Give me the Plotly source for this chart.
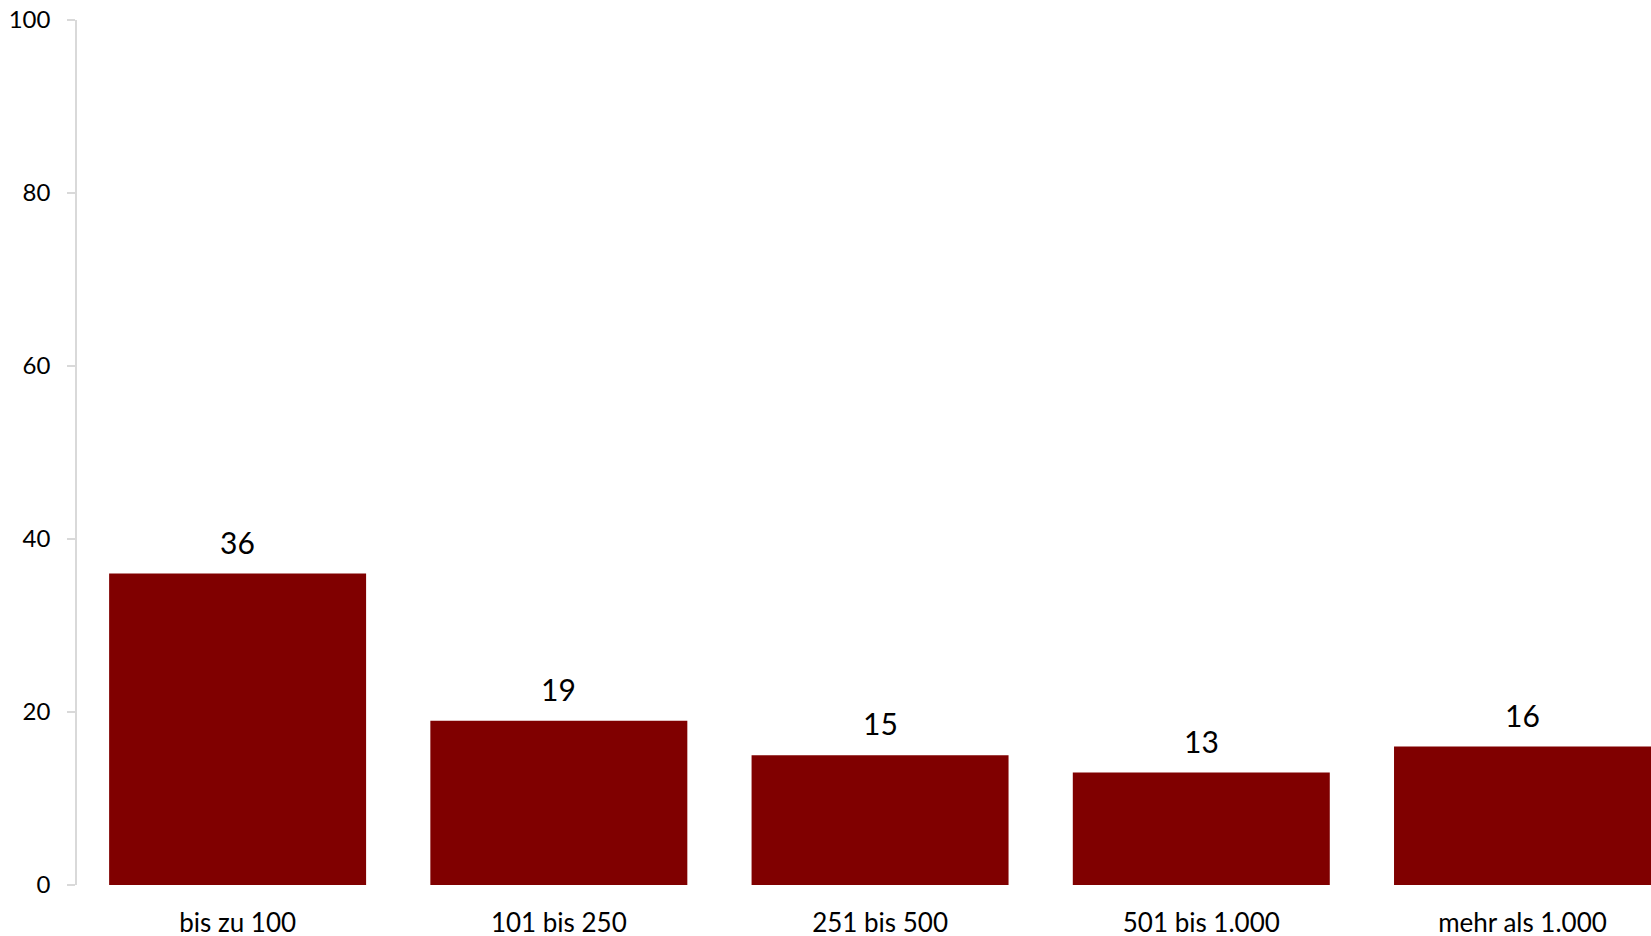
import plotly.graph_objects as go

categories = ["bis zu 100", "101 bis 250", "251 bis 500", "501 bis 1.000", "mehr als 1.000"]
values = [36, 19, 15, 13, 16]
y_ticks = [0, 20, 40, 60, 80, 100]

BAR_COLOR = "#800000"
AXIS_COLOR = "#d9d9d9"
FONT = "Lato, 'Open Sans', sans-serif"

fig = go.Figure()
fig.add_trace(go.Bar(
    x=list(range(len(categories))),
    y=values,
    marker=dict(color=BAR_COLOR, line=dict(width=0)),
    hoverinfo="skip",
))

for i, v in enumerate(values):
    fig.add_annotation(
        x=i, y=v, xref="x", yref="y",
        text=str(v), showarrow=False,
        yanchor="bottom", yshift=12,
        font=dict(family=FONT, size=30, color="#000000"),
    )

fig.update_layout(
    width=1651, height=936,
    margin=dict(l=77, r=0, t=20, b=51, autoexpand=False),
    paper_bgcolor="white", plot_bgcolor="white",
    showlegend=False,
    bargap=0.2,
    xaxis=dict(
        range=[-0.5, 4.4],
        tickmode="array",
        tickvals=list(range(len(categories))),
        ticktext=categories,
        showgrid=False, zeroline=False, showline=False,
        ticks="",
        automargin=False,
        ticklabelstandoff=20,
        tickfont=dict(family=FONT, size=26, color="#000000"),
        fixedrange=True,
    ),
    yaxis=dict(
        range=[0, 100],
        tickmode="array",
        tickvals=y_ticks,
        showgrid=False, zeroline=False,
        automargin=False,
        showline=True, linecolor=AXIS_COLOR, linewidth=1.5,
        ticks="outside", ticklen=8, tickcolor=AXIS_COLOR, tickwidth=1.5,
        ticklabelstandoff=12,
        tickfont=dict(family=FONT, size=24, color="#000000"),
        fixedrange=True,
    ),
)

fig.write_html(
    "out.html",
    config={"displayModeBar": False},
    post_script="document.body.style.margin='0';document.body.style.overflow='hidden';",
)
